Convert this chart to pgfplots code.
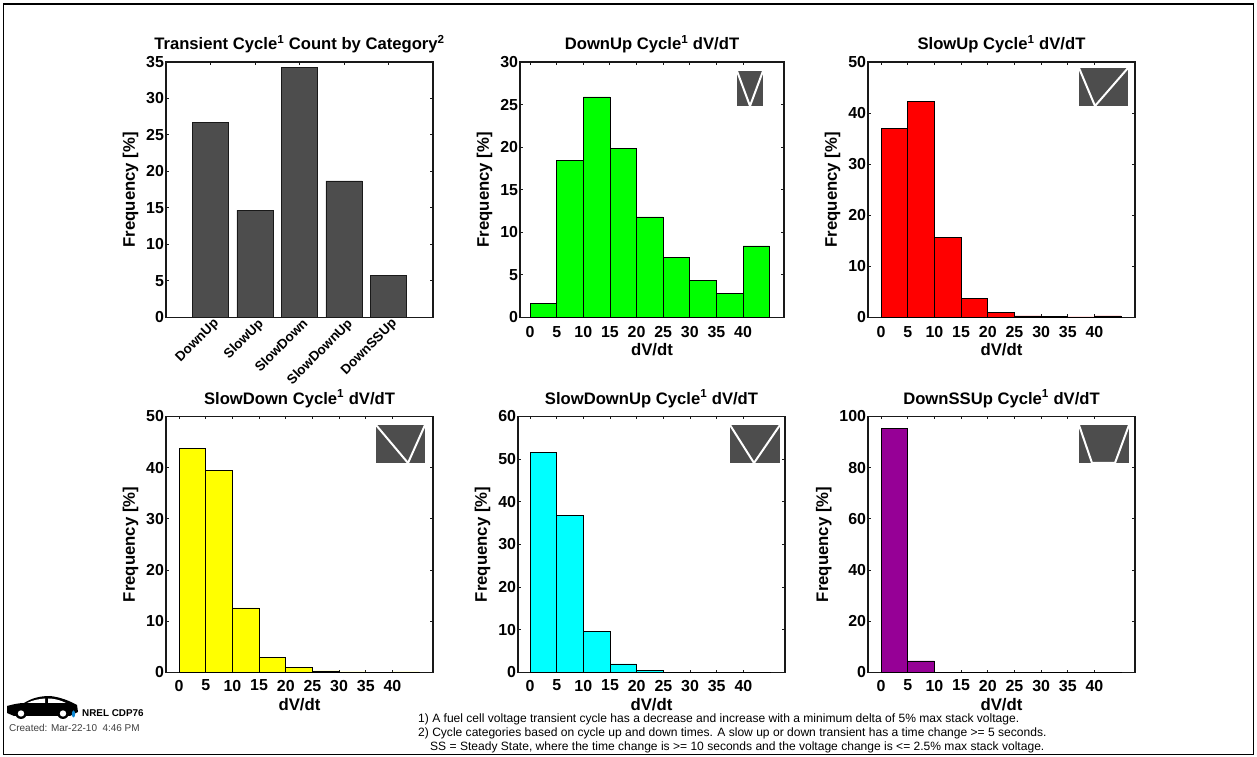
\documentclass[border=0pt]{standalone}
\usepackage{pgfplots}
\usepackage{pgfplotstable}
\usepackage{fontspec}
\setmainfont{Liberation Sans}
\pgfplotsset{compat=1.18}
\definecolor{bargray}{RGB}{77,77,77}
\definecolor{axcol}{RGB}{25,25,25}
\definecolor{dgreen}{RGB}{0,255,0}
\definecolor{dred}{RGB}{255,0,0}
\definecolor{dyellow}{RGB}{255,255,0}
\definecolor{dcyan}{RGB}{0,255,255}
\definecolor{dpurple}{RGB}{150,0,150}
\newcommand{\fs}[1]{\fontsize{#1}{#1}\selectfont}
\pgfplotsset{
  base/.style={
    scale only axis, anchor=south west,
    /pgf/number format/assume math mode=true,
    axis line style={axcol,line width=1.3pt},
    tick style={axcol,line width=1pt},
    tick align=inside, major tick length=3pt,
    xtick pos=both, ytick pos=both,
    tick label style={font=\bfseries\fs{16}},
    label style={font=\bfseries\fs{16.8}},
    title style={font=\bfseries\fs{16.7},yshift=-0.5pt},
    ylabel={Frequency [\%]},
    ylabel style={yshift=1pt},
    yticklabel style={xshift=1.5pt},
    ymin=0,
  },
  hist/.style={
    base, xmin=-2.45, xmax=47.6,
    xtick={0,5,...,40},
    xlabel={dV/dt},
  },
  rowone/.style={xticklabel style={yshift=-5.5pt},xlabel style={yshift=1pt}},
  rowtwo/.style={xticklabel style={yshift=-4pt},xlabel style={yshift=-0.5pt}},
  histbar/.style={ybar,bar width=5,bar shift=0pt,draw=black,line width=0.8pt,fill=#1},
}
\pgfplotstableread{
x y
2.5 1.6
7.5 18.4
12.5 25.9
17.5 19.8
22.5 11.8
27.5 7.1
32.5 4.4
37.5 2.8
42.5 8.4
}\downup
\pgfplotstableread{
x y
2.5 37.0
7.5 42.2
12.5 15.6
17.5 3.8
22.5 1.0
27.5 0.3
32.5 0.15
37.5 0.1
42.5 0.3
}\slowup
\pgfplotstableread{
x y
2.5 43.8
7.5 39.5
12.5 12.6
17.5 3.0
22.5 0.9
27.5 0.3
32.5 0.1
37.5 0.05
42.5 0.1
}\slowdown
\pgfplotstableread{
x y
2.5 51.5
7.5 36.8
12.5 9.7
17.5 2.0
22.5 0.4
27.5 0.1
32.5 0.05
37.5 0.05
42.5 0.1
}\slowdownup
\pgfplotstableread{
x y
2.5 95.3
7.5 4.5
12.5 0.1
17.5 0.05
22.5 0.02
27.5 0.02
32.5 0.02
37.5 0.02
42.5 0.05
}\downssup
\begin{document}
\begin{tikzpicture}[x=1bp,y=1bp]
\path[use as bounding box] (0,0) rectangle (1257,757);
\draw[black,line width=1.2pt] (3.5,2.5) rectangle (1253.5,753);

% Panel 1
\begin{axis}[base, at={(166bp,439.5bp)}, width=267bp, height=255.5bp,
  xmin=0, xmax=6, ymin=0, ymax=35, xtick={1,2,3,4,5},
  xticklabels={DownUp,SlowUp,SlowDown,SlowDownUp,DownSSUp},
  xticklabel style={rotate=45,anchor=north east,font=\bfseries\fs{13.5},xshift=5pt,yshift=2pt},
  ytick={0,5,...,35},
  title={Transient Cycle\textsuperscript{1} Count by Category\textsuperscript{2}}]
\addplot[ybar,bar width=0.81,bar shift=0pt,fill=bargray,draw=axcol,line width=0.8pt] coordinates {(1,26.7)(2,14.7)(3,34.2)(4,18.7)(5,5.8)};
\end{axis}

% Panel 2
\begin{axis}[hist, rowone, at={(520bp,439.5bp)}, width=264bp, height=255.5bp, xmin=-1.9, xmax=47.7, ymax=30, ytick={0,5,...,30},
  title={DownUp Cycle\textsuperscript{1} dV/dT}]
\addplot[histbar=dgreen] table[x=x,y=y] {\downup};
\end{axis}

% Panel 3
\begin{axis}[hist, rowone, at={(868bp,439.5bp)}, width=267bp, height=255.5bp, ymax=50, ytick={0,10,...,50},
  title={SlowUp Cycle\textsuperscript{1} dV/dT}]
\addplot[histbar=dred] table[x=x,y=y] {\slowup};
\end{axis}

% Panel 4
\begin{axis}[hist, rowtwo, at={(166bp,84.5bp)}, width=267bp, height=256bp, ymax=50, ytick={0,10,...,50},
  title={SlowDown Cycle\textsuperscript{1} dV/dT}]
\addplot[histbar=dyellow] table[x=x,y=y] {\slowdown};
\end{axis}

% Panel 5
\begin{axis}[hist, rowtwo, at={(518bp,84.5bp)}, width=267bp, height=256bp, xmin=-2.25, xmax=47.8, ymax=60, ytick={0,10,...,60},
  title={SlowDownUp Cycle\textsuperscript{1} dV/dT}]
\addplot[histbar=dcyan] table[x=x,y=y] {\slowdownup};
\end{axis}

% Panel 6
\begin{axis}[hist, rowtwo, at={(868bp,84.5bp)}, width=267bp, height=256bp, ymax=100, ytick={0,20,...,100},
  title={DownSSUp Cycle\textsuperscript{1} dV/dT}]
\addplot[histbar=dpurple] table[x=x,y=y] {\downssup};
\end{axis}

% Icons
\fill[bargray] (737,651) rectangle (763,686);
\draw[white,line width=2pt] (737,686)--(750,651)--(763,686);
\fill[bargray] (1079,651) rectangle (1128,689);
\draw[white,line width=2pt] (1079,689)--(1095,651)--(1128,689);
\fill[bargray] (376,294) rectangle (425,332);
\draw[white,line width=2pt] (376,332)--(408,294)--(425,332);
\fill[bargray] (730,294) rectangle (780,332);
\draw[white,line width=2pt] (730,332)--(754,294)--(780,332);
\fill[bargray] (1079,294) rectangle (1129,332);
\draw[white,line width=2pt] (1079,332)--(1092,294)--(1115,294)--(1129,332);

% Car logo
\fill[black] (7,44) -- (7,51) .. controls (14,53) and (20,54) .. (24,54)
  .. controls (32,59) and (40,61) .. (50,61)
  .. controls (60,60) and (70,56) .. (77,52)
  -- (78,45) -- (70,41) -- (14,41) -- cycle;
\fill[white] (27,54) .. controls (33,57) and (39,58) .. (45,58.5) -- (45,54) -- cycle;
\fill[white] (48,58.5) .. controls (54,58.5) and (60,57) .. (66,54) -- (48,54) -- cycle;
\fill[black] (21,44) circle (6);
\fill[black] (63,44) circle (6);
\fill[white] (21,43.5) circle (3.2);
\fill[white] (63,43.5) circle (3.2);
\fill[cyan!70!blue] (73.5,43) ellipse (1.6 and 3.5);
\node[anchor=west,inner sep=0,font=\bfseries\fs{9.9}] at (82,44) {NREL CDP76};
\node[anchor=west,inner sep=0,font=\fs{10},text=black!75] at (9,29) {Created: Mar-22-10\ \ 4:46 PM};

% Footnotes
\begin{scope}[every node/.style={anchor=west,inner sep=0,font=\fs{12.1}}]
\node at (418,38) {1) A fuel cell voltage transient cycle has a decrease and increase with a minimum delta of 5\% max stack voltage.};
\node at (418,24) {2) Cycle categories based on cycle up and down times. A slow up or down transient has a time change >= 5 seconds.};
\node at (430,10) {SS = Steady State, where the time change is >= 10 seconds and the voltage change is <= 2.5\% max stack voltage.};
\end{scope}
\end{tikzpicture}
\end{document}
